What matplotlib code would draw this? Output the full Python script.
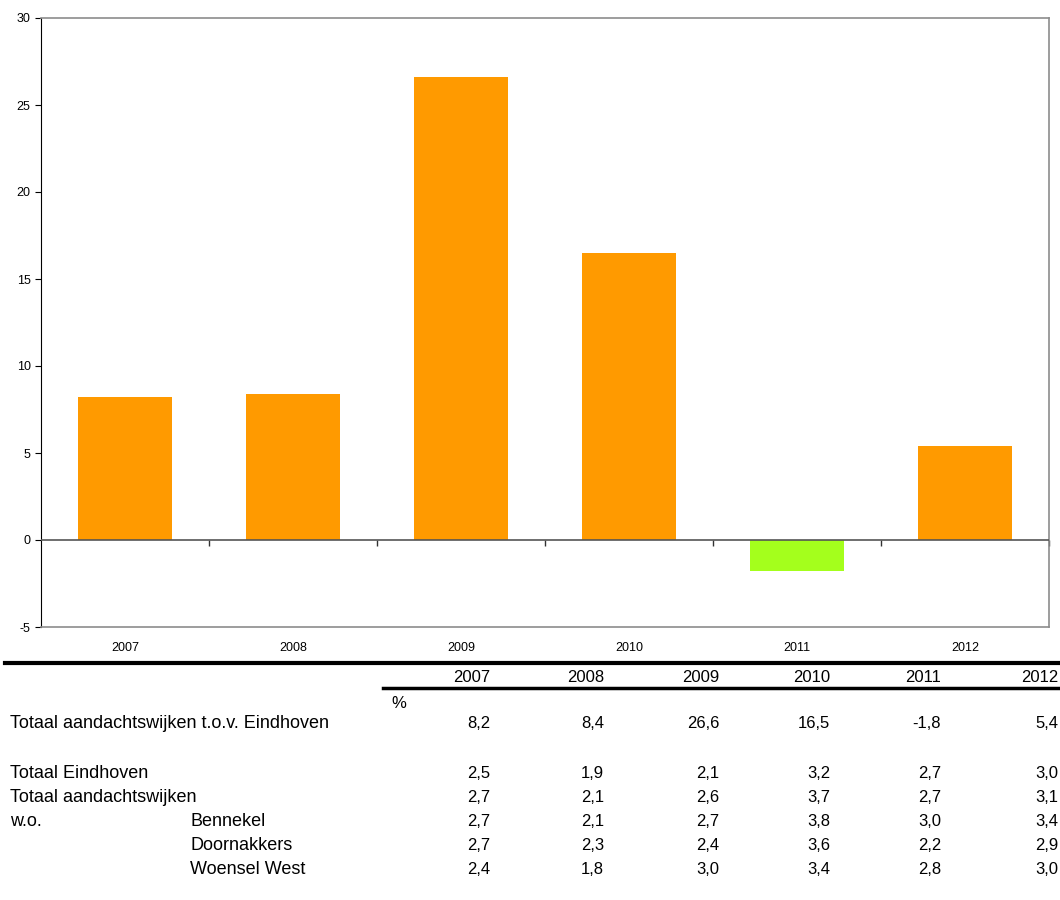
import numpy as np
import matplotlib.pyplot as plt
from matplotlib.lines import Line2D

plt.rcParams['font.family'] = ['Liberation Sans', 'DejaVu Sans']
plt.rcParams['axes.unicode_minus'] = False

# --- Data ---
years = ['2007', '2008', '2009', '2010', '2011', '2012']
verschil = [8.2, 8.4, 26.6, 16.5, -1.8, 5.4]

row_labels = ['Totaal Eindhoven', 'Totaal aandachtswijken', 'Bennekel',
              'Doornakkers', 'Woensel West']
row_values = [
    [2.5, 1.9, 2.1, 3.2, 2.7, 3.0],
    [2.7, 2.1, 2.6, 3.7, 2.7, 3.1],
    [2.7, 2.1, 2.7, 3.8, 3.0, 3.4],
    [2.7, 2.3, 2.4, 3.6, 2.2, 2.9],
    [2.4, 1.8, 3.0, 3.4, 2.8, 3.0],
]

orange = '#ff9a00'
green = '#a4ff1c'

fig = plt.figure(figsize=(10.6, 9), dpi=100)
ax = fig.add_axes([41 / 1060, 1 - 627 / 900, 1008 / 1060, 609 / 900])

x = np.arange(len(years))
colors = [orange if v >= 0 else green for v in verschil]
ax.bar(x, verschil, width=0.56, color=colors, zorder=2)

ax.set_xlim(-0.5, len(years) - 0.5)
ax.set_ylim(-5, 30)
ax.set_yticks(range(-5, 31, 5))
ax.set_xticks(x)
ax.set_xticklabels(years)
ax.tick_params(axis='x', length=0, labelsize=9, pad=11)
ax.tick_params(axis='y', length=4, labelsize=9, direction='out', color='black')

for s in ['top', 'right', 'bottom']:
    ax.spines[s].set_color('#8c8c8c')
    ax.spines[s].set_linewidth(1.2)
ax.spines['left'].set_color('black')

# zero line with category boundary ticks
ax.axhline(0, color='#555555', linewidth=1.2, zorder=3)
sec = ax.secondary_xaxis(5 / 35)
sec.set_xticks(np.arange(0.5, len(years), 1))
sec.set_xticklabels([])
sec.spines['bottom'].set_visible(False)
sec.tick_params(axis='x', length=4, width=1, color='#333333', direction='out')

# --- Table below chart ---
def fy(py):
    return 1 - py / 900

def fx(px):
    return px / 1060

fig.add_artist(Line2D([fx(5), fx(1060)], [fy(663), fy(663)], color='black', linewidth=3))
fig.add_artist(Line2D([fx(383), fx(1060)], [fy(688), fy(688)], color='black', linewidth=2.5))

col_x = [490, 604, 719, 830, 941, 1058]
fs_num = 12
fs_lab = 13
for cx, yr in zip(col_x, years):
    fig.text(fx(cx), fy(677), yr, ha='right', va='center', fontsize=fs_num)
fig.text(fx(391), fy(703), '%', ha='left', va='center', fontsize=fs_num)

fig.text(fx(10), fy(724), 'Totaal aandachtswijken t.o.v. Eindhoven',
         ha='left', va='center', fontsize=fs_lab)
for cx, v in zip(col_x, verschil):
    fig.text(fx(cx), fy(724), f'{v:.1f}'.replace('.', ','), ha='right', va='center', fontsize=fs_num)

row_y = [773, 797, 821, 845, 869]
for i, (lab, vals, ry) in enumerate(zip(row_labels, row_values, row_y)):
    lx = 10 if i < 2 else 190
    fig.text(fx(lx), fy(ry), lab, ha='left', va='center', fontsize=fs_lab)
    for cx, v in zip(col_x, vals):
        fig.text(fx(cx), fy(ry), f'{v:.1f}'.replace('.', ','), ha='right', va='center', fontsize=fs_num)
fig.text(fx(10), fy(821), 'w.o.', ha='left', va='center', fontsize=fs_lab)

fig.savefig('out.png', dpi=100)
